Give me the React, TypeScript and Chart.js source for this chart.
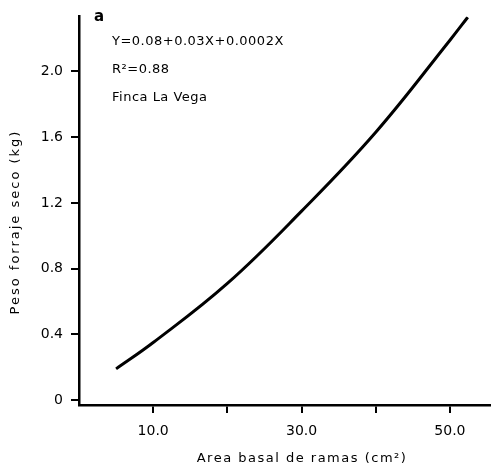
import React, { useEffect, useRef } from "react";
import { Chart, registerables } from "chart.js";

Chart.register(...registerables);

const areaBasal = [5, 10, 20, 30, 40, 50, 52.4];
const pesoSeco = [0.19, 0.35, 0.71, 1.15, 1.63, 2.19, 2.33];
const xTickValues = [10, 20, 30, 40, 50];
const xTickLabels = ["10.0", "", "30.0", "", "50.0"];
const yTickValues = [0, 0.4, 0.8, 1.2, 1.6, 2.0];
const yTickLabels = ["0", "0.4", "0.8", "1.2", "1.6", "2.0"];
const panelLabel = "a";
const annotationLines = ["Y=0.08+0.03X+0.0002X", "R²=0.88", "Finca La Vega"];
const xTitle = "Area basal de ramas (cm²)";
const yTitle = "Peso forraje seco (kg)";

const FONT = '"DejaVu Sans", sans-serif';

const textPlugin = {
  id: "textPlugin",
  afterDraw(chart: any) {
    const ctx = chart.ctx as CanvasRenderingContext2D;
    ctx.save();
    ctx.fillStyle = "#000";
    (ctx as any).letterSpacing = "0.5px";
    ctx.font = `bold 15px ${FONT}`;
    ctx.textAlign = "left";
    ctx.textBaseline = "middle";
    ctx.fillText(panelLabel, 94, 17);
    ctx.font = `13px ${FONT}`;
    const ys = [42, 70, 98];
    annotationLines.forEach((t, i) => ctx.fillText(t, 112, ys[i]));
    (ctx as any).letterSpacing = "1.5px";
    ctx.font = `13px ${FONT}`;
    ctx.textAlign = "center";
    ctx.fillText(xTitle, 302, 459);
    (ctx as any).letterSpacing = "2px";
    ctx.translate(16, 222);
    ctx.rotate(-Math.PI / 2);
    ctx.fillText(yTitle, 0, 0);
    ctx.restore();
  },
};

export default function App() {
  const ref = useRef<HTMLCanvasElement | null>(null);
  useEffect(() => {
    if (!ref.current) return;
    const chart = new Chart(ref.current, {
      type: "line",
      data: {
        datasets: [
          {
            data: areaBasal.map((x, i) => ({ x, y: pesoSeco[i] })),
            borderColor: "#000",
            borderWidth: 3,
            pointRadius: 0,
            tension: 0.4,
            fill: false,
          },
        ],
      },
      options: {
        responsive: false,
        animation: false,
        layout: { padding: { top: 10, right: 2, left: 0, bottom: 0 } },
        plugins: { legend: { display: false }, tooltip: { enabled: false } },
        scales: {
          x: {
            type: "linear",
            min: 0,
            max: 55.4,
            afterBuildTicks: (s: any) => {
              s.ticks = xTickValues.map((v) => ({ value: v }));
            },
            afterFit: (s: any) => {
              s.height = 68;
            },
            ticks: {
              callback: (_v: any, i: number) => xTickLabels[i],
              color: "#000",
              font: { family: FONT, size: 14 },
              padding: 10,
              maxRotation: 0,
              autoSkip: false,
            },
            grid: { drawOnChartArea: false, tickLength: 8, color: "#000", lineWidth: 2 },
            border: { color: "#000", width: 2.5 },
          },
          y: {
            type: "linear",
            min: -0.03,
            max: 2.335,
            afterBuildTicks: (s: any) => {
              s.ticks = yTickValues.map((v) => ({ value: v }));
            },
            afterFit: (s: any) => {
              s.width = 79;
            },
            ticks: {
              callback: (_v: any, i: number) => yTickLabels[i],
              color: "#000",
              font: { family: FONT, size: 14 },
              padding: 8,
              autoSkip: false,
            },
            grid: { drawOnChartArea: false, tickLength: 8, color: "#000", lineWidth: 2 },
            border: { color: "#000", width: 2.5 },
          },
        },
      },
      plugins: [textPlugin],
    } as any);
    return () => chart.destroy();
  }, []);
  return (
    <div style={{ position: "absolute", left: 0, top: 0, width: 492, height: 473 }}>
      <canvas ref={ref} width={492} height={473} style={{ display: "block" }} />
    </div>
  );
}
